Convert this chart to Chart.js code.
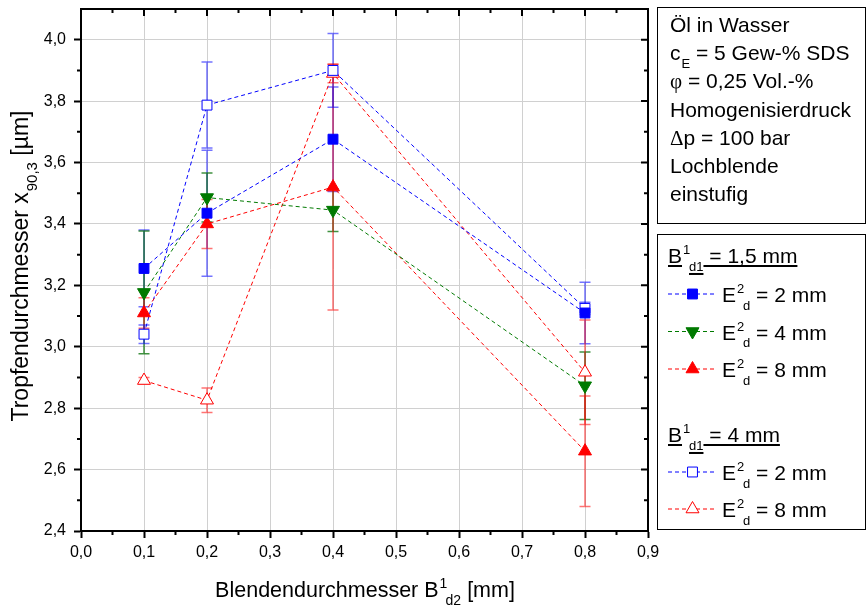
<!DOCTYPE html>
<html>
<head>
<meta charset="utf-8">
<script src="https://cdn.jsdelivr.net/npm/chart.js@4.4.0/dist/chart.umd.min.js"></script>
<style>
  html, body { margin: 0; padding: 0; background: #fff; }
</style>
</head>
<body>
<canvas id="chart" width="867" height="606"></canvas>
<script>
// Blendendurchmesser B1d2 [mm]
const xValues = [0.1, 0.2, 0.4, 0.8];
const xTicks = [0, 0.1, 0.2, 0.3, 0.4, 0.5, 0.6, 0.7, 0.8, 0.9];
const yTicks = [2.4, 2.6, 2.8, 3.0, 3.2, 3.4, 3.6, 3.8, 4.0];

// B1d1 = 1,5 mm
const e2Mean15 = [3.255, 3.435, 3.676, 3.110];
const e2Err15  = [0.125, 0.205, 0.170, 0.100];
const e4Mean15 = [3.177, 3.486, 3.445, 2.873];
const e4Err15  = [0.200, 0.080, 0.070, 0.110];
const e8Mean15 = [3.110, 3.400, 3.520, 2.660];
const e8Err15  = [0.050, 0.080, 0.400, 0.180];

// B1d1 = 4 mm
const e2Mean4 = [3.041, 3.787, 3.900, 3.125];
const e2Err4  = [0.030, 0.140, 0.120, 0.020];
const e8Mean4 = [2.890, 2.826, 3.890, 2.917];
const e8Err4  = [0.010, 0.040, 0.030, 0.170];

const FONT = '"Liberation Sans", Arial, sans-serif';
const SERIF = '"Liberation Serif", "Times New Roman", serif';
const BLUE = '#0000ff';
const GREEN = '#007a00';
const RED = '#ff0000';
const DASH = [4, 3];

function toPoints(means) {
  return xValues.map((x, i) => ({ x: x, y: means[i] }));
}

function series(label, means, errs, color, errColor, style, rotation, filled) {
  return {
    label: label,
    data: toPoints(means),
    errors: errs,
    errColor: errColor,
    borderColor: color,
    borderWidth: 1,
    borderDash: DASH,
    pointStyle: style,
    pointRotation: rotation,
    pointRadius: style === 'rect' ? 7 : 7.5,
    pointHoverRadius: style === 'rect' ? 7 : 7.5,
    pointBorderWidth: 1,
    pointBorderColor: color,
    pointBackgroundColor: filled ? color : '#ffffff',
    backgroundColor: filled ? color : '#ffffff',
    fill: false,
    tension: 0
  };
}

const datasets = [
  series('E2d = 2 mm (1,5)', e2Mean15, e2Err15, BLUE, 'rgba(0,0,255,0.55)', 'rect', 0, true),
  series('E2d = 4 mm (1,5)', e4Mean15, e4Err15, GREEN, 'rgba(0,110,0,0.75)', 'triangle', 180, true),
  series('E2d = 8 mm (1,5)', e8Mean15, e8Err15, RED, 'rgba(255,0,0,0.55)', 'triangle', 0, true),
  series('E2d = 2 mm (4)', e2Mean4, e2Err4, BLUE, 'rgba(0,0,255,0.55)', 'rect', 0, false),
  series('E2d = 8 mm (4)', e8Mean4, e8Err4, RED, 'rgba(255,0,0,0.55)', 'triangle', 0, false)
];

// text with super-/subscripts; parts are strings or {sup, sub} or {serif}
function richText(ctx, parts, x, y, size, opts) {
  opts = opts || {};
  const small = Math.round(size * 0.64);
  let cx = x;
  parts.forEach(p => {
    if (typeof p === 'string' || p.serif) {
      const t = typeof p === 'string' ? p : p.serif;
      ctx.font = (typeof p === 'string' ? size + 'px ' + FONT : size + 'px ' + SERIF);
      const w = ctx.measureText(t).width;
      if (opts.draw) {
        ctx.fillText(t, cx, y);
        if (opts.underline) ctx.fillRect(cx, y + 2, w, 2);
      }
      cx += w;
    } else {
      ctx.font = small + 'px ' + FONT;
      let adv = 0;
      let subX = cx;
      if (p.sup) {
        const w = ctx.measureText(p.sup).width;
        if (opts.draw) ctx.fillText(p.sup, cx + 1, y - size * 0.42);
        adv = w + 1;
        subX = cx + (p.sub ? Math.min(w + 1, 6) : 0);
      }
      if (p.sub) {
        const w = ctx.measureText(p.sub).width;
        if (opts.draw) {
          ctx.fillText(p.sub, subX + 1, y + size * 0.38);
          if (opts.underline) ctx.fillRect(subX + 1, y + size * 0.38 + 2, w, 2);
        }
        adv = Math.max(adv, subX - cx + w + 1);
      }
      cx += adv;
    }
  });
  return cx - x;
}

const errorBars = {
  id: 'errorBars',
  beforeDatasetsDraw(chart) {
    const { ctx, scales: { x, y } } = chart;
    chart.data.datasets.forEach(ds => {
      ctx.save();
      ctx.strokeStyle = ds.errColor;
      ctx.lineWidth = 1.5;
      ds.data.forEach((p, i) => {
        const e = ds.errors[i];
        const px = x.getPixelForValue(p.x);
        const top = y.getPixelForValue(p.y + e);
        const bot = y.getPixelForValue(p.y - e);
        ctx.beginPath();
        ctx.moveTo(px, top); ctx.lineTo(px, bot);
        ctx.moveTo(px - 5.5, top); ctx.lineTo(px + 5.5, top);
        ctx.moveTo(px - 5.5, bot); ctx.lineTo(px + 5.5, bot);
        ctx.stroke();
      });
      ctx.restore();
    });
  }
};

const frame = {
  id: 'frame',
  afterDraw(chart) {
    const { ctx, chartArea: a, scales: { x, y } } = chart;
    ctx.save();
    ctx.strokeStyle = '#000';
    ctx.lineWidth = 2;
    ctx.beginPath();
    ctx.moveTo(a.left - 1, a.top); ctx.lineTo(a.right, a.top); ctx.lineTo(a.right, a.bottom + 1);
    ctx.stroke();

    // mirrored ticks on top/right, minor ticks everywhere
    ctx.beginPath();
    xTicks.forEach((v, i) => {
      const px = x.getPixelForValue(v);
      ctx.moveTo(px, a.top); ctx.lineTo(px, a.top + 7);
      if (i < xTicks.length - 1) {
        const m = x.getPixelForValue((v + xTicks[i + 1]) / 2);
        ctx.moveTo(m, a.top); ctx.lineTo(m, a.top + 4);
        ctx.moveTo(m, a.bottom); ctx.lineTo(m, a.bottom + 4);
      }
    });
    yTicks.forEach(v => {
      const py = y.getPixelForValue(v);
      ctx.moveTo(a.right, py); ctx.lineTo(a.right - 7, py);
      const m = y.getPixelForValue(v + 0.1);
      if (m > a.top + 1) {
        ctx.moveTo(a.right, m); ctx.lineTo(a.right - 4, m);
        ctx.moveTo(a.left, m); ctx.lineTo(a.left - 4, m);
      }
    });
    ctx.stroke();

    // axis titles
    ctx.fillStyle = '#000';
    ctx.textBaseline = 'alphabetic';
    ctx.textAlign = 'left';
    const xTitle = ['Blendendurchmesser B', { sup: '1', sub: 'd2' }, ' [mm]'];
    const wx = richText(ctx, xTitle, 0, 0, 21.5, {});
    richText(ctx, xTitle, 365 - wx / 2, 597, 21.5, { draw: true });

    const yTitle = ['Tropfendurchmesser x', { sub: '90,3' }, ' [\u00b5m]'];
    const wy = richText(ctx, yTitle, 0, 0, 23, {});
    ctx.translate(28, 266);
    ctx.rotate(-Math.PI / 2);
    richText(ctx, yTitle, -wy / 2, 0, 23, { draw: true });
    ctx.restore();

    drawInfoBox(ctx);
    drawLegend(ctx);
  }
};

function drawInfoBox(ctx) {
  ctx.save();
  ctx.strokeStyle = '#000';
  ctx.lineWidth = 1;
  ctx.strokeRect(657.5, 7.5, 208, 216);
  ctx.fillStyle = '#000';
  const lines = [
    ['\u00d6l in Wasser'],
    ['c', { sub: 'E' }, ' = 5 Gew-% SDS'],
    [{ serif: '\u03c6' }, ' = 0,25 Vol.-%'],
    ['Homogenisierdruck'],
    [{ serif: '\u0394' }, 'p = 100 bar'],
    ['Lochblende'],
    ['einstufig']
  ];
  lines.forEach((parts, i) => {
    richText(ctx, parts, 670, 32 + i * 28.2, 21, { draw: true });
  });
  ctx.restore();
}

function legendMarker(ctx, ds, y) {
  ctx.save();
  ctx.strokeStyle = ds.borderColor;
  ctx.lineWidth = 1;
  ctx.setLineDash(DASH);
  ctx.beginPath();
  ctx.moveTo(668, y); ctx.lineTo(717, y);
  ctx.stroke();
  ctx.setLineDash([]);
  ctx.fillStyle = ds.pointBackgroundColor;
  ctx.strokeStyle = ds.pointBorderColor;
  Chart.helpers.drawPoint(ctx, {
    pointStyle: ds.pointStyle,
    rotation: ds.pointRotation,
    radius: ds.pointRadius,
    borderWidth: 1
  }, 692.5, y);
  ctx.restore();
}

function drawLegend(ctx) {
  ctx.save();
  ctx.strokeStyle = '#000';
  ctx.lineWidth = 1;
  ctx.strokeRect(657.5, 234.5, 208, 295);
  ctx.fillStyle = '#000';
  richText(ctx, ['B', { sup: '1', sub: 'd1' }, ' = 1,5 mm'], 668, 263, 21, { draw: true, underline: true });
  richText(ctx, ['B', { sup: '1', sub: 'd1' }, ' = 4 mm'], 668, 442, 21, { draw: true, underline: true });

  const rows = [
    { ds: datasets[0], y: 302, mm: ' = 2 mm' },
    { ds: datasets[1], y: 339.5, mm: ' = 4 mm' },
    { ds: datasets[2], y: 377, mm: ' = 8 mm' },
    { ds: datasets[3], y: 480, mm: ' = 2 mm' },
    { ds: datasets[4], y: 517, mm: ' = 8 mm' }
  ];
  rows.forEach(r => {
    legendMarker(ctx, r.ds, r.y - 8);
    ctx.fillStyle = '#000';
    richText(ctx, ['E', { sup: '2', sub: 'd' }, r.mm], 722, r.y, 21, { draw: true });
  });
  ctx.restore();
}

const tickFont = { family: FONT, size: 16 };
const fmt = v => Number(v).toFixed(1).replace('.', ',');

new Chart(document.getElementById('chart'), {
  type: 'line',
  data: { datasets: datasets },
  options: {
    responsive: false,
    animation: false,
    devicePixelRatio: 1,
    layout: { padding: { left: 0, right: 219, top: 9, bottom: 0 } },
    plugins: {
      legend: { display: false },
      tooltip: { enabled: false }
    },
    scales: {
      x: {
        type: 'linear',
        min: 0,
        max: 0.9,
        afterBuildTicks: s => { s.ticks = xTicks.map(v => ({ value: v })); },
        afterFit: s => { s.height = 75; s.paddingLeft = 0; s.paddingRight = 0; },
        grid: { color: '#d0d0d0', lineWidth: 1, tickColor: '#000', tickLength: 7, tickWidth: 2 },
        border: { color: '#000', width: 2 },
        ticks: { font: tickFont, color: '#000', padding: 5, maxRotation: 0, autoSkip: false, callback: fmt }
      },
      y: {
        type: 'linear',
        min: 2.4,
        max: 4.1,
        afterBuildTicks: s => { s.ticks = yTicks.map(v => ({ value: v })); },
        afterFit: s => { s.width = 81; s.paddingTop = 0; s.paddingBottom = 0; },
        grid: { color: '#d0d0d0', lineWidth: 1, tickColor: '#000', tickLength: 7, tickWidth: 2 },
        border: { color: '#000', width: 2 },
        ticks: { font: tickFont, color: '#000', padding: 8, autoSkip: false, callback: fmt }
      }
    }
  },
  plugins: [errorBars, frame]
});
</script>
</body>
</html>
